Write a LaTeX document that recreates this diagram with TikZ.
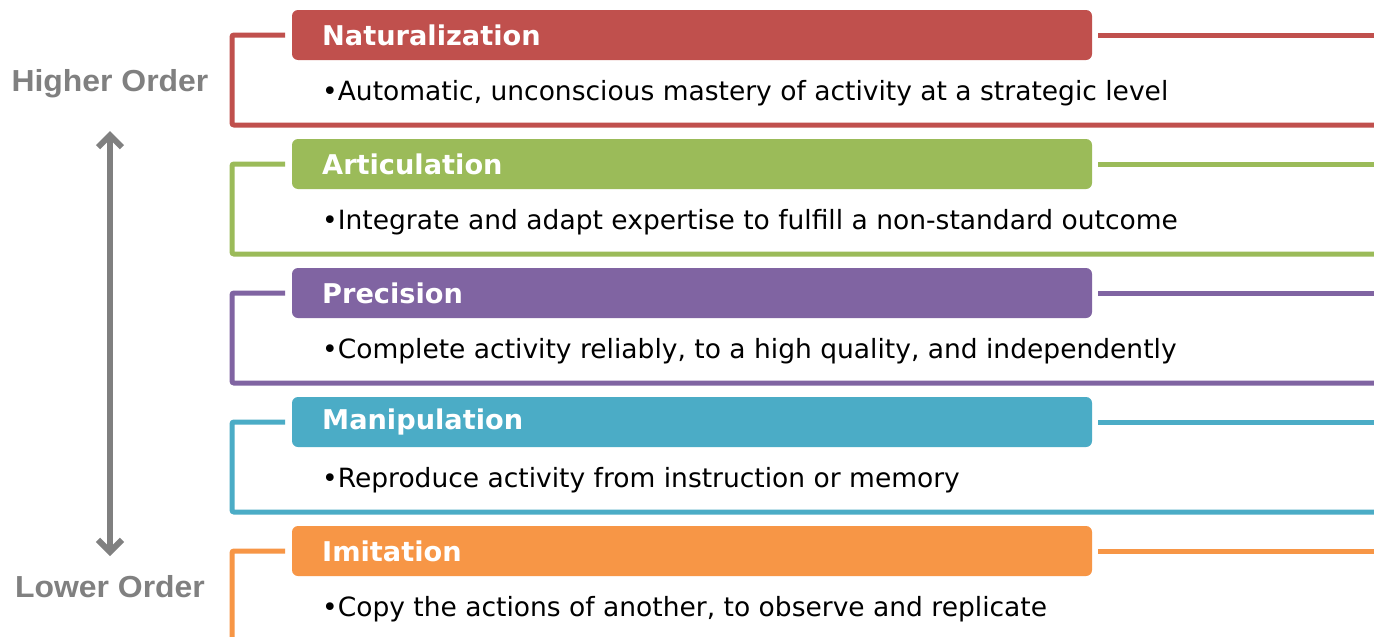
\documentclass[tikz,border=0pt]{standalone}
\usepackage{fontspec}
\setmainfont{DejaVu Sans}
\newfontfamily\sidefont{Liberation Sans}[FakeStretch=1.05]
\usetikzlibrary{arrows.meta}
\definecolor{cnat}{HTML}{C0504D}
\definecolor{cart}{HTML}{9BBB59}
\definecolor{cpre}{HTML}{8064A2}
\definecolor{cman}{HTML}{4BACC6}
\definecolor{cimi}{HTML}{F79646}
\definecolor{sidegray}{HTML}{808080}
\tikzset{
  hdrbox/.style={rounded corners=6pt, minimum width=800pt, minimum height=50pt, inner sep=0pt},
  hdrtext/.style={anchor=west, inner sep=0pt, text=white, font=\fontsize{27.2}{30}\selectfont\bfseries},
  bodytext/.style={anchor=west, inner sep=0pt, text=black, font=\fontsize{26.5}{30}\selectfont},
  frame/.style={line width=5pt, rounded corners=2pt},
  sidelabel/.style={inner sep=0pt, text=sidegray, font=\fontsize{30.4}{34}\selectfont\sidefont\bfseries},
  scale arrow/.style={line width=6pt, draw=sidegray,
    {Straight Barb[length=12pt, width=24pt]}-{Straight Barb[length=12pt, width=24pt]}}
}
\begin{document}
\begin{tikzpicture}[x=1pt, y=-1pt]
\useasboundingbox (0,0) rectangle (1374,637);
\clip (0,0) rectangle (1374,637);
\fill[white] (0,0) rectangle (1374,637);

% five levels, from the top
\foreach \i/\col/\head/\txt in {
  0/cnat/Naturalization/{Automatic, unconscious mastery of activity at a strategic level},
  1/cart/Articulation/{Integrate and adapt expertise to fulfill a non-standard outcome},
  2/cpre/Precision/{Complete activity reliably, to a high quality, and independently},
  3/cman/Manipulation/{Reproduce activity from instruction or memory},
  4/cimi/Imitation/{Copy the actions of another, to observe and replicate}} {
  \pgfmathsetmacro{\yy}{35+129*\i}
  \node[hdrbox, fill=\col] (h\i) at (692,\yy) {};
  \coordinate (fl\i) at (285,\yy);
  \coordinate (fc\i) at (232,\yy);
  \coordinate (fb\i) at (232,\yy+90);
  \coordinate (fe\i) at (1380,\yy+90);
  \coordinate (fr\i) at (1098,\yy);
  \coordinate (fx\i) at (1380,\yy);
  \draw[frame, draw=\col] (fl\i) -- (fc\i) -- (fb\i) -- (fe\i);
  \draw[frame, draw=\col] (fr\i) -- (fx\i);
  \node[hdrtext] (t\i) at (322,\yy) {\head};
  \node[bodytext] (b\i) at (322,\yy+58) {\textbullet\txt};
}

% order scale on the left
\node[sidelabel] (hi) at (110,84) {Higher Order};
\node[sidelabel] (lo) at (110,587) {Lower Order};
\coordinate (atop) at (110,131);
\coordinate (abot) at (110,556);
\draw[scale arrow] (abot) -- (atop);
\end{tikzpicture}
\end{document}
